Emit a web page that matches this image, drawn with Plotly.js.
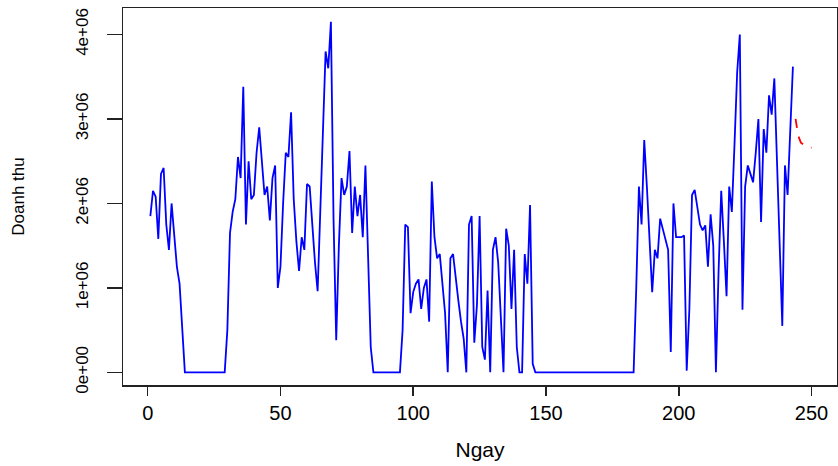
<!DOCTYPE html>
<html>
<head>
<meta charset="utf-8">
<script src="https://cdn.plot.ly/plotly-3.0.1.min.js"></script>
<style>html,body{margin:0;padding:0;background:#fff;}#chart{width:838px;height:466px;}</style>
</head>
<body>
<div id="chart"></div>
<script>
// Doanh thu (revenue, millions) by day
const revenue = [
  1.85, 2.15, 2.08, 1.58, 2.35, 2.42, 1.75, 1.45, 2.0, 1.6,
  1.25, 1.05, 0.45, 0, 0, 0, 0, 0, 0, 0,
  0, 0, 0, 0, 0, 0, 0, 0, 0, 0.5,
  1.65, 1.9, 2.05, 2.55, 2.3, 3.38, 1.75, 2.5, 2.05, 2.1,
  2.6, 2.9, 2.5, 2.1, 2.2, 1.8, 2.3, 2.45, 1.0, 1.25,
  2.0, 2.6, 2.55, 3.08, 2.05, 1.55, 1.2, 1.6, 1.45, 2.23,
  2.2, 1.7, 1.3, 0.96, 1.9, 2.85, 3.8, 3.6, 4.15, 1.8,
  0.38, 1.5, 2.3, 2.1, 2.2, 2.62, 1.65, 2.2, 1.85, 2.1,
  1.6, 2.45, 1.5, 0.3, 0, 0, 0, 0, 0, 0,
  0, 0, 0, 0, 0, 0.5, 1.75, 1.72, 0.7, 0.95,
  1.05, 1.1, 0.75, 1.0, 1.1, 0.6, 2.26, 1.6, 1.35, 1.4,
  1.0, 0.7, 0, 1.35, 1.4, 1.1, 0.85, 0.6, 0.4, 0,
  1.75, 1.85, 0.35, 0.8, 1.85, 0.3, 0.15, 0.97, 0, 1.45,
  1.6, 1.3, 0.7, 0, 1.7, 1.5, 0.75, 1.45, 0.3, 0,
  0, 1.4, 1.05, 1.98, 0.1, 0, 0, 0, 0, 0,
  0, 0, 0, 0, 0, 0, 0, 0, 0, 0,
  0, 0, 0, 0, 0, 0, 0, 0, 0, 0,
  0, 0, 0, 0, 0, 0, 0, 0, 0, 0,
  0, 0, 0, 1.0, 2.2, 1.75, 2.75, 2.2, 1.5, 0.95,
  1.45, 1.35, 1.82, 1.7, 1.55, 1.45, 0.24, 2.0, 1.6, 1.6,
  1.6, 1.62, 0.02, 0.75, 2.1, 2.16, 1.95, 1.75, 1.68, 1.74,
  1.25, 1.87, 1.5, 0, 1.2, 2.15, 1.55, 0.9, 2.2, 1.9,
  2.7, 3.55, 4.0, 0.74, 2.2, 2.45, 2.35, 2.25, 2.6, 3.0,
  1.78, 2.88, 2.6, 3.28, 3.05, 3.48, 2.5, 1.4, 0.55, 2.45,
  2.1, 2.87, 3.62
];
// Forecast (red dashed), days 244..250
const forecastDays = [244, 245, 246, 247, 248, 249, 250];
const forecast = [3.0, 2.8, 2.72, 2.69, 2.67, 2.66, 2.66];

const yTickVals = [0, 1, 2, 3, 4];
const yTickText = ["0e+00", "1e+06", "2e+06", "3e+06", "4e+06"];
const xTickVals = [0, 50, 100, 150, 200, 250];

const days = revenue.map((_, i) => i + 1);

const font = "Arial, 'Liberation Sans', sans-serif";

const traces = [
  {x: days, y: revenue, type: "scatter", mode: "lines",
   line: {color: "#0000ff", width: 1.8}, hoverinfo: "skip"},
  {x: forecastDays, y: forecast, type: "scatter", mode: "lines",
   line: {color: "#ff0000", width: 1.8, dash: "dash"}, hoverinfo: "skip"}
];

const layout = {
  width: 838, height: 466,
  margin: {l: 123, r: 1, t: 8, b: 81},
  paper_bgcolor: "#fff", plot_bgcolor: "#fff",
  showlegend: false,
  font: {family: font, color: "#000"},
  xaxis: {
    range: [-9.3, 259.6], tickvals: xTickVals,
    showgrid: false, zeroline: false,
    showline: true, mirror: true, linecolor: "#222", linewidth: 1.5,
    ticks: "outside", ticklen: 9, tickwidth: 1.5, tickcolor: "#222",
    tickfont: {size: 20, family: font},
    title: {text: "Ngay", font: {size: 21, family: font}, standoff: 20}
  },
  yaxis: {
    range: [-0.15, 4.314], tickvals: yTickVals, ticktext: yTickText,
    tickangle: -90,
    showgrid: false, zeroline: false,
    showline: true, mirror: true, linecolor: "#222", linewidth: 1.5,
    ticks: "outside", ticklen: 15, tickwidth: 1.5, tickcolor: "#222",
    tickfont: {size: 17, family: font},
    ticklabelstandoff: 12,
    title: {text: "Doanh thu", font: {size: 17, family: font}, standoff: 44}
  }
};

Plotly.newPlot("chart", traces, layout, {displayModeBar: false, staticPlot: true});
</script>
</body>
</html>
